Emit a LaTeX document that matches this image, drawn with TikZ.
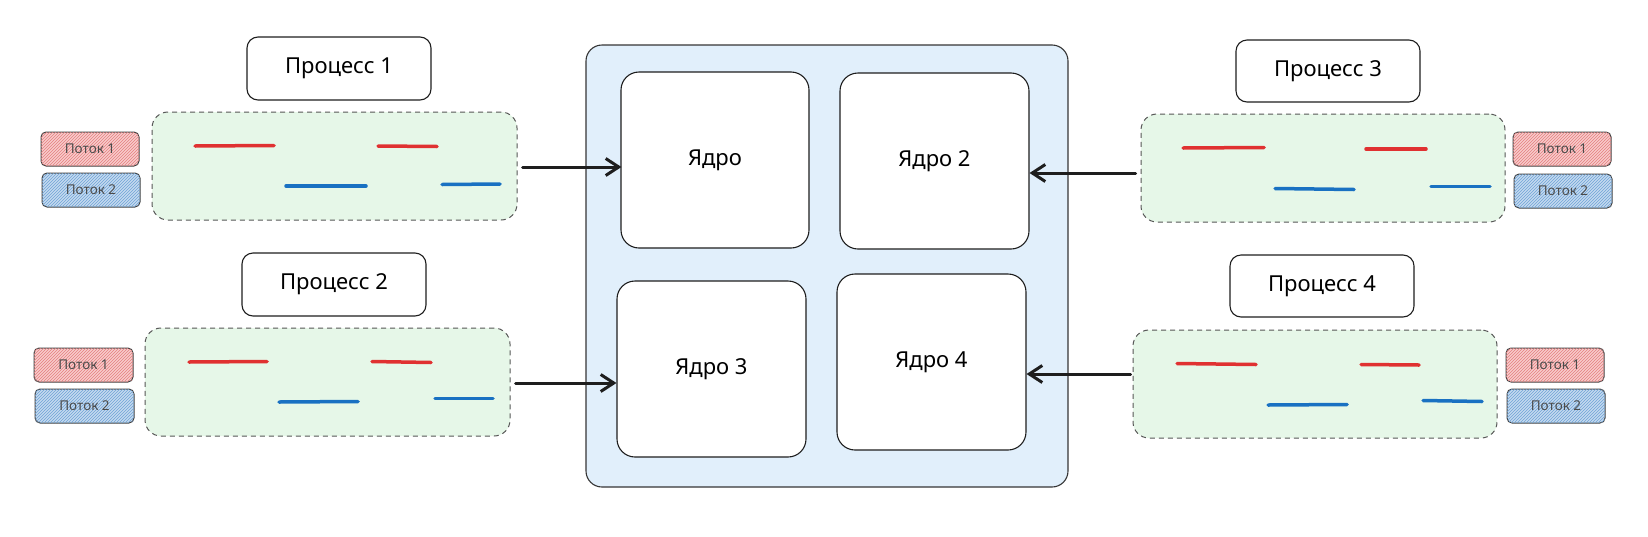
\documentclass[tikz,border=0pt]{standalone}
\usepackage{fontspec}
\setmainfont{Noto Sans}
\usetikzlibrary{arrows.meta,patterns}
\definecolor{ink}{HTML}{1E1E1E}
\definecolor{greenfill}{HTML}{E6F7E8}
\definecolor{bluefill}{HTML}{E1EFFB}
\definecolor{redthread}{HTML}{F8CCCC}
\definecolor{bluethread}{HTML}{C4DAF0}
\definecolor{redhatch}{HTML}{E47F7F}
\definecolor{bluehatch}{HTML}{6FA3D6}
\definecolor{redline}{HTML}{E03131}
\definecolor{blueline}{HTML}{1971C2}
\tikzset{
  procbox/.style={draw=ink, line width=1.1pt, rounded corners=11pt, fill=white,
    minimum width=184pt, minimum height=62pt, inner sep=0pt, font=\fontsize{22}{26}\selectfont},
  groupbox/.style={draw=ink!75, line width=1pt, dash pattern=on 5pt off 4pt, rounded corners=16pt,
    fill=greenfill, minimum width=364pt, minimum height=108pt, inner sep=0pt},
  threadbox/.style={draw=ink!85, line width=1pt, rounded corners=5pt,
    minimum width=98pt, minimum height=34pt, inner sep=0pt, font=\fontsize{13.5}{15}\selectfont, text=ink!80},
  redthr/.style={threadbox, fill=redthread, postaction={pattern=north east lines, pattern color=redhatch}},
  bluethr/.style={threadbox, fill=bluethread, postaction={pattern=north east lines, pattern color=bluehatch}},
  corebox/.style={draw=ink, line width=1.1pt, rounded corners=18pt, fill=white,
    minimum width=189pt, minimum height=176pt, inner sep=0pt, font=\fontsize{22}{26}\selectfont},
  cpubox/.style={draw=ink!90, line width=1.1pt, rounded corners=16pt, fill=bluefill,
    minimum width=482pt, minimum height=442pt, inner sep=0pt},
  rl/.style={draw=redline, line width=3.5pt, line cap=round},
  bl/.style={draw=blueline, line width=3.5pt, line cap=round},
  arr/.style={draw=ink, line width=3pt, line cap=round, -{Straight Barb[length=13pt,width=17pt,line width=3pt]}}
}
\begin{document}
\begin{tikzpicture}[x=1pt,y=-1pt]
\useasboundingbox (0,0) rectangle (1648,536);
% CPU
\node[cpubox] (cpu) at (827,266) {};
\node[corebox, minimum width=188pt] (c1) at (715,160) {Ядро};
\node[corebox] (c2) at (934.5,161) {Ядро 2};
\node[corebox] (c3) at (711.5,369) {Ядро 3};
\node[corebox] (c4) at (931.5,362) {Ядро 4};
% Process 1
\node[procbox, minimum height=63pt] (p1) at (339,68.5) {Процесс 1};
\node[groupbox, minimum width=365pt] (g1) at (334.5,166) {};
\node[redthr] (t11) at (90,149) {Поток 1};
\node[bluethr] (t12) at (91,190) {Поток 2};
\draw[rl] (195,146) -- (274,145.5);
\draw[rl] (378,146) -- (437,146.5);
\draw[bl] (286,186) -- (366,186);
\draw[bl] (442,184.5) -- (500,184);
% Process 2
\node[procbox, minimum height=63pt] (p2) at (334,284.5) {Процесс 2};
\node[groupbox, minimum width=365pt] (g2) at (327.5,382) {};
\node[redthr, minimum width=99pt] (t21) at (83.5,365) {Поток 1};
\node[bluethr, minimum width=99pt] (t22) at (84.5,406) {Поток 2};
\draw[rl] (189,362) -- (267,361.5);
\draw[rl] (372,361.5) -- (431,362.5);
\draw[bl] (279,402) -- (358,401.5);
\draw[bl] (435,398.5) -- (493,398.5);
% Process 3
\node[procbox] (p3) at (1328,71) {Процесс 3};
\node[groupbox] (g3) at (1323,168) {};
\node[redthr] (t31) at (1562,149) {Поток 1};
\node[bluethr] (t32) at (1563,191) {Поток 2};
\draw[rl] (1183,148) -- (1264,147.5);
\draw[rl] (1366,149) -- (1426,149);
\draw[bl] (1275,188.5) -- (1354,189.5);
\draw[bl] (1431,186.5) -- (1490,186.5);
% Process 4
\node[procbox] (p4) at (1322,286) {Процесс 4};
\node[groupbox] (g4) at (1315,384) {};
\node[redthr] (t41) at (1555,365) {Поток 1};
\node[bluethr] (t42) at (1556,406) {Поток 2};
\draw[rl] (1177,363.5) -- (1256,364.5);
\draw[rl] (1361,364.5) -- (1419,365);
\draw[bl] (1268,405) -- (1347,404.5);
\draw[bl] (1423,400.5) -- (1482,401.5);
% Arrows
\coordinate (a1) at ([xshift=5pt,yshift=-1pt]g1.east);
\coordinate (a2) at ([xshift=5pt,yshift=-1pt]g2.east);
\coordinate (a3) at ([xshift=-5pt,yshift=-5pt]g3.west);
\coordinate (a4) at ([xshift=-2pt,yshift=10pt]g4.west);
\draw[arr] (a1) -- ([xshift=1pt]c1.west |- a1);
\draw[arr] (a2) -- (c3.west |- a2);
\draw[arr] (a3) -- (c2.east |- a3);
\draw[arr] (a4) -- (c4.east |- a4);
\end{tikzpicture}
\end{document}
